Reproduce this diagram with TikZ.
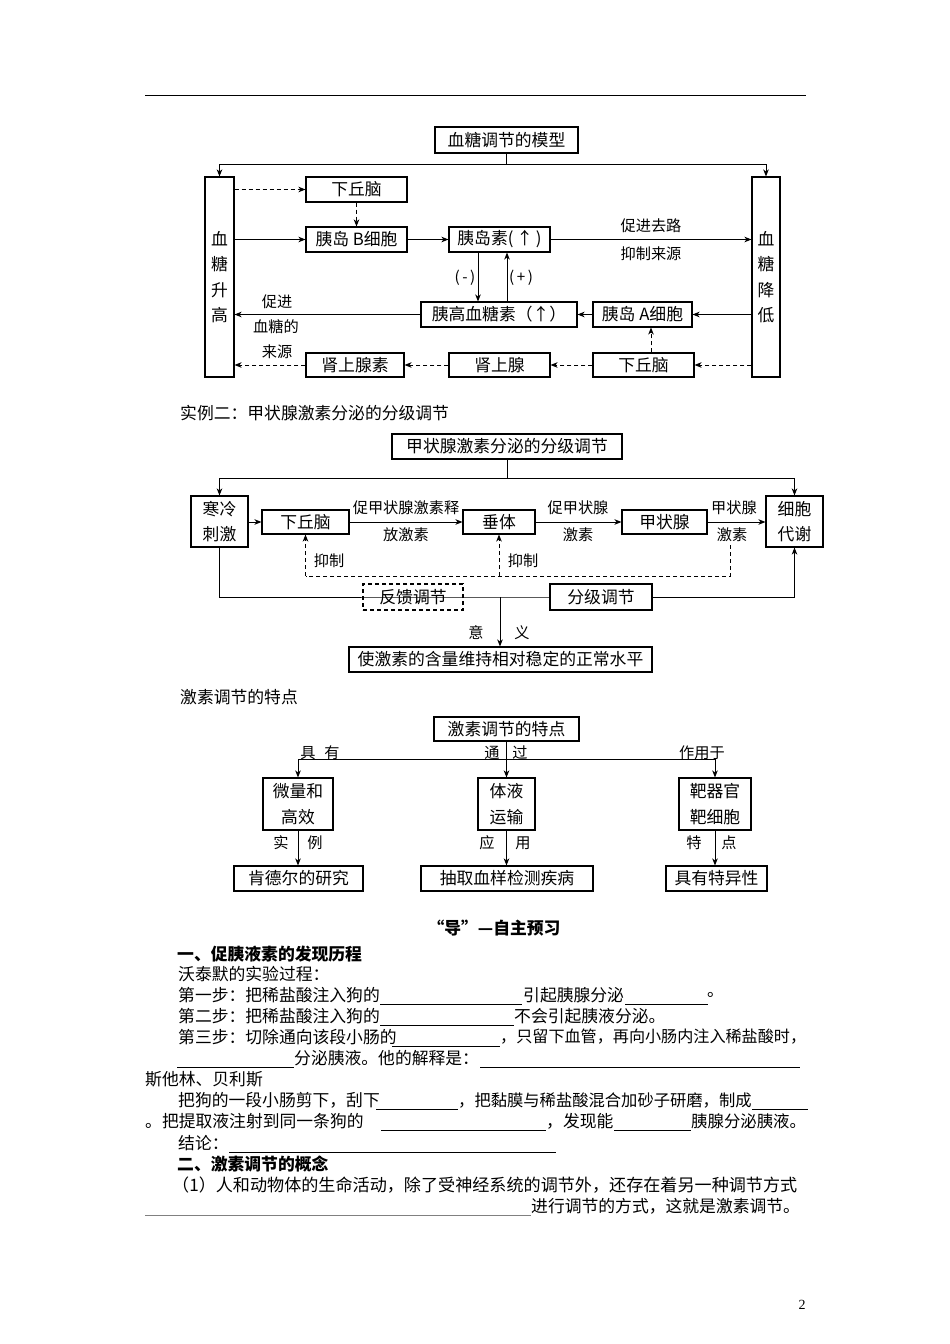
\documentclass[tikz,border=0pt]{standalone}
\usepackage{fontspec}
\setmainfont{Noto Sans CJK SC}
\newfontfamily\pnum{Liberation Serif}
\usetikzlibrary{arrows.meta}
\newcommand\myfs[1]{\fontsize{#1}{#1}\selectfont}
\newcommand\bx[7][]{\node[bx,#1,minimum width={(#5-#3)*1pt},minimum height={(#6-#4)*1pt}] (#2) at ({(#3+#5)/2},{(#4+#6)/2}) {#7};}
\tikzset{
 bx/.style={draw,line width=1.1pt,inner sep=0pt,align=center,font=\fontsize{16.8}{25.5}\selectfont,fill=white},
 ln/.style={line width=1pt},
 arr/.style={ln,-{Stealth[length=7pt,width=5.5pt,inset=2pt]}},
 darr/.style={arr,dash pattern=on 4pt off 3pt},
 dln/.style={ln,dash pattern=on 4pt off 3pt},
 lbl/.style={inner sep=0pt,font=\myfs{15.2}},
 txt/.style={anchor=west,inner sep=0pt,font=\myfs{16.8}},
 btxt/.style={txt,font=\myfs{16.8}\bfseries},
 ul/.style={line width=0.8pt},
}
\begin{document}
\begin{tikzpicture}[x=1pt,y=-1pt]
\fill[white] (0,0) rectangle (950,1344);
\useasboundingbox (0,0) rectangle (950,1344);
\draw[line width=0.8pt] (145,95) -- (806,95);

% ---------- diagram 1 ----------
\bx{T1}{435}{127}{578}{153}{血糖调节的模型}
\bx{L1}{205}{177}{234}{377}{血\\糖\\升\\高}
\bx{R1}{752}{177}{780}{377}{血\\糖\\降\\低}
\bx{H1}{306}{177}{407}{202}{下丘脑}
\bx{B}{306}{227}{407}{252}{胰岛 B细胞}
\bx{INS}{449}{227}{550}{252}{胰岛素(\,↑\,)}
\bx{GLU}{421}{302}{577}{327}{胰高血糖素（↑）}
\bx{A}{593}{302}{692}{327}{胰岛 A细胞}
\bx{EPI}{306}{353}{404}{377}{肾上腺素}
\bx{ADR}{449}{353}{550}{377}{肾上腺}
\bx{H2}{593}{353}{694}{377}{下丘脑}
\coordinate (j1) at (506.5,164);
\coordinate (xm) at (478,0);
\coordinate (xp) at (507,0);
\coordinate (xa) at (651,0);
\draw[ln] (T1.south) -- (j1);
\draw[arr] (j1) -| (L1.north);
\draw[arr] (j1) -| (R1.north);
\draw[darr] (L1.east |- H1) -- (H1.west);
\draw[darr] (H1.south) -- (B.north);
\draw[arr] (L1.east |- B) -- (B.west);
\draw[arr] (B) -- (INS);
\draw[arr] (INS.east) -- (R1.west |- INS);
\draw[arr] (INS.south -| xm) -- (GLU.north -| xm);
\draw[arr] (GLU.north -| xp) -- (INS.south -| xp);
\draw[arr] (R1.west |- A) -- (A.east);
\draw[arr] (A) -- (GLU);
\draw[arr] (GLU.west) -- (L1.east |- GLU);
\draw[darr] (R1.west |- H2) -- (H2.east);
\draw[darr] (H2) -- (ADR);
\draw[darr] (ADR) -- (EPI);
\draw[darr] (EPI.west) -- (L1.east |- EPI);
\draw[darr] (H2.north -| xa) -- (A.south -| xa);
\node[lbl] (l1) at (651,226) {促进去路};
\node[lbl] (l2) at (651,254) {抑制来源};
\node[lbl] (l3) at (465,278) {(\,-\,)};
\node[lbl] (l4) at (521,278) {(\,+\,)};
\node[lbl] (l5) at (277,302) {促进};
\node[lbl] (l6) at (276,327) {血糖的};
\node[lbl] (l7) at (277,352) {来源};

% ---------- diagram 2 ----------
\node[txt] (s2) at (180,413) {实例二：甲状腺激素分泌的分级调节};
\bx{T2}{392}{434}{622}{459}{甲状腺激素分泌的分级调节}
\bx{COLD}{191}{496}{248}{547}{寒冷\\刺激}
\bx{CELL}{766}{496}{823}{547}{细胞\\代谢}
\bx{HYP}{262}{510}{349}{534}{下丘脑}
\bx{PIT}{463}{510}{535}{534}{垂体}
\bx{THY}{622}{510}{707}{534}{甲状腺}
\coordinate (j2) at (507,478);
\coordinate (fb) at (730,545);
\coordinate (fy) at (0,576);
\coordinate (m2) at (500,597);
\draw[ln] (T2.south -| j2) -- (j2);
\draw[arr] (j2) -| (COLD.north);
\draw[arr] (j2) -| (CELL.north);
\draw[arr] (COLD.east |- HYP) -- (HYP.west);
\draw[arr] (HYP) -- (PIT);
\draw[arr] (PIT) -- (THY);
\draw[arr] (THY.east) -- (CELL.west |- THY);
\draw[dln] (fb) -- (fb |- fy) -- (HYP.south |- fy);
\draw[darr] (HYP.south |- fy) -- (HYP.south);
\draw[darr] (PIT.south |- fy) -- (PIT.south);
\draw[arr] (COLD.south) |- (m2) -| (CELL.south);
\bx[fill=none,dash pattern=on 4pt off 3pt]{FB}{363}{584}{463}{610}{反馈调节}
\bx{GR}{550}{584}{652}{610}{分级调节}
\bx{RES}{349}{647}{652}{672}{使激素的含量维持相对稳定的正常水平}
\draw[arr] (m2) -- (RES.north -| m2);
\node[lbl] (a1) at (406,508) {促甲状腺激素释};
\node[lbl] (a2) at (406,535) {放激素};
\node[lbl] (a3) at (578,508) {促甲状腺};
\node[lbl] (a4) at (578,535) {激素};
\node[lbl] (a5) at (734,508) {甲状腺};
\node[lbl] (a6) at (732,535) {激素};
\node[lbl] (a7) at (329,561) {抑制};
\node[lbl] (a8) at (523,561) {抑制};
\node[lbl] (a9) at (476,633) {意};
\node[lbl] (a10) at (522,633) {义};

% ---------- diagram 3 ----------
\node[txt] (s3) at (180,697) {激素调节的特点};
\bx{T3}{434}{717}{579}{741}{激素调节的特点}
\bx{MA}{263}{778}{333}{830}{微量和\\高效}
\bx{MB}{478}{778}{535}{830}{体液\\运输}
\bx{MC}{679}{778}{751}{830}{靶器官\\靶细胞}
\bx{BA}{234}{866}{363}{891}{肯德尔的研究}
\bx{BB}{421}{866}{593}{891}{抽取血样检测疾病}
\bx{BC}{666}{866}{767}{891}{具有特异性}
\coordinate (h3) at (0,759);
\draw[arr] (T3.south) -- (MB.north);
\draw[arr] (T3.south |- h3) -| (MA.north);
\draw[arr] (T3.south |- h3) -| (MC.north);
\draw[arr] (MA.south) -- (MA.south |- BA.north);
\draw[arr] (MB.south) -- (MB.south |- BB.north);
\draw[arr] (MC.south) -- (MC.south |- BC.north);
\node[lbl] (b1) at (308,753) {具};
\node[lbl] (b2) at (332,753) {有};
\node[lbl] (b3) at (492,753) {通};
\node[lbl] (b4) at (520,753) {过};
\node[lbl] (b5) at (702,753) {作用于};
\node[lbl] (b6) at (281,843) {实};
\node[lbl] (b7) at (315,843) {例};
\node[lbl] (b8) at (487,843) {应};
\node[lbl] (b9) at (523,843) {用};
\node[lbl] (b10) at (694,843) {特};
\node[lbl] (b11) at (729,843) {点};

% ---------- text ----------
\node[btxt,anchor=center] (h0) at (494,928) {“导”—自主预习};
\node[btxt] (h1) at (177,954) {一、促胰液素的发现历程};
\node[txt] (r1) at (178,974) {沃泰默的实验过程：};
\node[txt] (r2a) at (178,995) {第一步：把稀盐酸注入狗的};
\draw[ul] (380,1004) -- (522,1004);
\node[txt] (r2b) at (523,995) {引起胰腺分泌};
\draw[ul] (625,1004) -- (708,1004);
\node[txt] (r2c) at (707,995) {。};
\node[txt] (r3a) at (178,1016) {第二步：把稀盐酸注入狗的};
\draw[ul] (380,1025) -- (514,1025);
\node[txt] (r3b) at (514,1016) {不会引起胰液分泌。};
\node[txt] (r4a) at (178,1037) {第三步：切除通向该段小肠的};
\draw[ul] (392,1046) -- (500,1046);
\node[txt,font=\myfs{16.1}] (r4b) at (500,1037) {，只留下血管，再向小肠内注入稀盐酸时，};
\draw[ul] (177,1067) -- (294,1067);
\node[txt] (r5a) at (294,1058) {分泌胰液。他的解释是：};
\draw[ul] (480,1067) -- (800,1067);
\node[txt] (r6) at (145,1079) {斯他林、贝利斯};
\node[txt] (r7a) at (178,1100) {把狗的一段小肠剪下，刮下};
\draw[ul] (376,1109) -- (458,1109);
\node[txt,font=\myfs{16.3}] (r7b) at (458,1100) {，把黏膜与稀盐酸混合加砂子研磨，制成};
\draw[ul] (752,1109) -- (808,1109);
\node[txt] (r8a) at (145,1121) {。把提取液注射到同一条狗的};
\draw[ul] (381,1130) -- (546,1130);
\node[txt] (r8b) at (546,1121) {，发现能};
\draw[ul] (614,1130) -- (691,1130);
\node[txt,font=\myfs{16.4}] (r8c) at (691,1121) {胰腺分泌胰液。};
\node[txt] (r9) at (178,1143) {结论：};
\draw[ul] (229,1152) -- (556,1152);
\node[btxt] (h2) at (177,1164) {二、激素调节的概念};
\node[txt,font=\myfs{17.1}] (r10) at (172,1185) {（1）人和动物体的生命活动，除了受神经系统的调节外，还存在着另一种调节方式};
\draw[ul,gray] (145,1215) -- (531,1215);
\node[txt] (r11) at (531,1206) {进行调节的方式，这就是激素调节。};
\node[inner sep=0pt,font=\pnum\fontsize{14}{14}\selectfont] (pg) at (802,1305) {2};
\end{tikzpicture}
\end{document}
